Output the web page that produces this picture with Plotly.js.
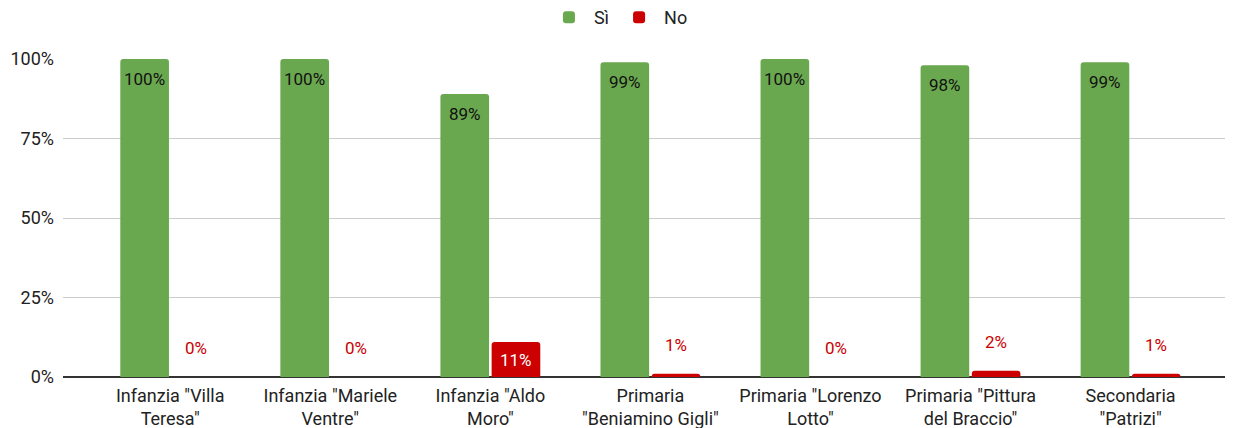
<!DOCTYPE html>
<html><head><meta charset="utf-8">
<script src="https://cdn.plot.ly/plotly-3.0.1.min.js"></script>
<style>html,body{margin:0;padding:0;background:#fff}</style>
</head><body>
<div id="chart" style="width:1237px;height:428px"></div>
<script>
const categories = ['Infanzia "Villa<br>Teresa"', 'Infanzia "Mariele<br>Ventre"', 'Infanzia "Aldo<br>Moro"', 'Primaria<br>"Beniamino Gigli"', 'Primaria "Lorenzo<br>Lotto"', 'Primaria "Pittura<br>del Braccio"', 'Secondaria<br>"Patrizi"'];
const siValues = [1.00, 1.00, 0.89, 0.99, 1.00, 0.98, 0.99];
const noValues = [0.00, 0.00, 0.11, 0.01, 0.00, 0.02, 0.01];
const seriesNames = ['Sì', 'No'];
const yTickVals = [0, 0.25, 0.5, 0.75, 1];
const yTickText = ['0%', '25%', '50%', '75%', '100%'];

const GREEN = '#6aa84f', RED = '#cc0000';
const FONT = 'Roboto, Arial, sans-serif';
const pct = v => Math.round(v * 100) + '%';

const traces = [
  {type: 'bar', name: seriesNames[0], x: categories, y: siValues,
   marker: {color: GREEN, cornerradius: 3}, hoverinfo: 'skip'},
  {type: 'bar', name: seriesNames[1], x: categories, y: noValues,
   marker: {color: RED, cornerradius: 3}, hoverinfo: 'skip'}
];

const annotations = [];
categories.forEach((c, i) => {
  annotations.push({x: c, y: siValues[i], xref: 'x', yref: 'y', xshift: -25.6,
    yanchor: 'top', yshift: -8, text: pct(siValues[i]), showarrow: false,
    font: {family: FONT, size: 17, color: '#111'}});
  const inside = noValues[i] >= 0.05;
  annotations.push({x: c, y: noValues[i], xref: 'x', yref: 'y', xshift: 25.6,
    yanchor: inside ? 'top' : 'bottom', yshift: inside ? -6 : 17,
    text: pct(noValues[i]), showarrow: false,
    font: {family: FONT, size: 17, color: inside ? '#ffffff' : RED}});
});

const layout = {
  width: 1237, height: 428,
  margin: {l: 63, r: 12, t: 59, b: 51, autoexpand: false},
  paper_bgcolor: '#fff', plot_bgcolor: '#fff',
  font: {family: FONT, size: 18, color: '#222'},
  barmode: 'group', bargap: 0.36, bargroupgap: 0.05,
  showlegend: true,
  legend: {orientation: 'h', x: 0.478, xanchor: 'center', y: 1.13, yanchor: 'middle',
    itemwidth: 40, font: {family: FONT, size: 18, color: '#222'}},
  xaxis: {type: 'category', range: [-0.67, 6.59], showgrid: false, ticks: '',
    showline: false, zeroline: false, tickangle: 0, automargin: false,
    ticklabelstandoff: 6,
    tickfont: {family: FONT, size: 18, color: '#222'}},
  yaxis: {range: [0, 1], tickvals: yTickVals, ticktext: yTickText, showgrid: true,
    gridcolor: '#cccccc', gridwidth: 1, zeroline: true, zerolinecolor: '#333333',
    zerolinewidth: 1.5, ticks: '', ticklabelstandoff: 8, automargin: false,
    tickfont: {family: FONT, size: 18, color: '#222'}},
  annotations: annotations
};

Plotly.newPlot('chart', traces, layout, {displayModeBar: false, staticPlot: true});
</script>
</body></html>
